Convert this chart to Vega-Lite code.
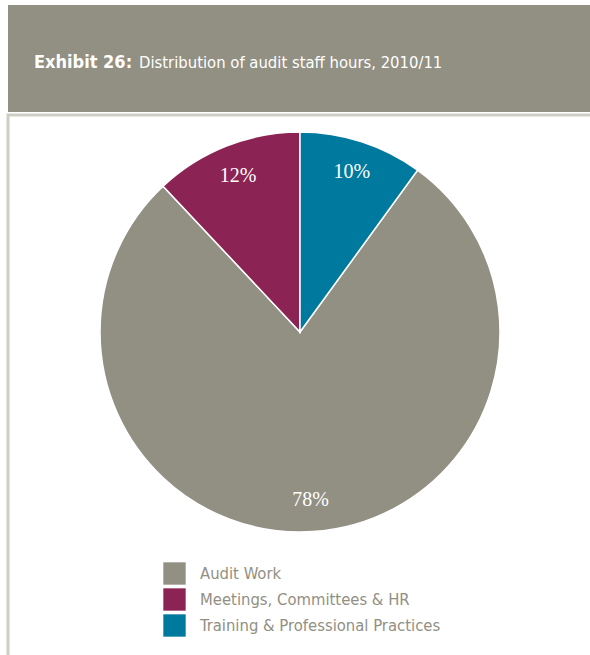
{
  "$schema": "https://vega.github.io/schema/vega-lite/v6.json",
  "background": "white",
  "padding": {"left": 6, "top": 5, "right": 0, "bottom": 0},
  "spacing": 1,
  "config": {"view": {"stroke": null}},
  "vconcat": [
    {
      "width": 600,
      "height": 107,
      "view": {"fill": "#928f83", "stroke": null},
      "data": {"values": [{"head": "Exhibit 26:", "desc": "Distribution of audit staff hours, 2010/11"}]},
      "layer": [
        {
          "mark": {"type": "text", "align": "left", "baseline": "alphabetic", "font": "DejaVu Sans Condensed", "fontWeight": "bold", "fontSize": 18, "color": "white"},
          "encoding": {"text": {"field": "head"}, "x": {"value": 26}, "y": {"value": 63}}
        },
        {
          "mark": {"type": "text", "align": "left", "baseline": "alphabetic", "font": "DejaVu Sans Condensed", "fontSize": 16.5, "color": "white"},
          "encoding": {"text": {"field": "desc"}, "x": {"value": 131}, "y": {"value": 63}}
        }
      ]
    },
    {
      "width": 600,
      "height": 560,
      "view": {"fill": "white", "stroke": "#cfcec5", "strokeWidth": 3},
      "data": {"values": [
        {"category": "Audit Work", "pct": 78, "label": "78%"},
        {"category": "Meetings, Committees & HR", "pct": 12, "label": "12%"},
        {"category": "Training & Professional Practices", "pct": 10, "label": "10%"}
      ]},
      "encoding": {
        "theta": {"field": "pct", "type": "quantitative", "stack": true, "scale": {"range": [0.6283, 6.9115]}},
        "order": {"field": "category", "sort": "ascending"}
      },
      "layer": [
        {
          "mark": {"type": "arc", "outerRadius": 200, "stroke": "white", "strokeWidth": 1.5},
          "encoding": {
            "x": {"value": 292},
            "y": {"value": 217},
            "color": {
              "field": "category", "type": "nominal",
              "scale": {"domain": ["Audit Work", "Meetings, Committees & HR", "Training & Professional Practices"], "range": ["#928f83", "#8b2454", "#00799e"]},
              "legend": {
                "title": null, "orient": "none", "legendX": 155, "legendY": 557,
                "symbolType": "square", "symbolSize": 500, "symbolStrokeWidth": 0, "symbolOpacity": 1,
                "labelFont": "DejaVu Sans Condensed", "labelFontSize": 16.5, "labelColor": "#928f83",
                "labelOffset": 14, "rowPadding": 3, "padding": 0, "labelLimit": 400
              }
            }
          }
        },
        {
          "mark": {"type": "text", "radius": 168, "font": "Liberation Serif", "fontSize": 20, "color": "white", "baseline": "middle"},
          "encoding": {
            "x": {"value": 292},
            "y": {"value": 217},
            "text": {"field": "label"}
          }
        }
      ]
    }
  ]
}
